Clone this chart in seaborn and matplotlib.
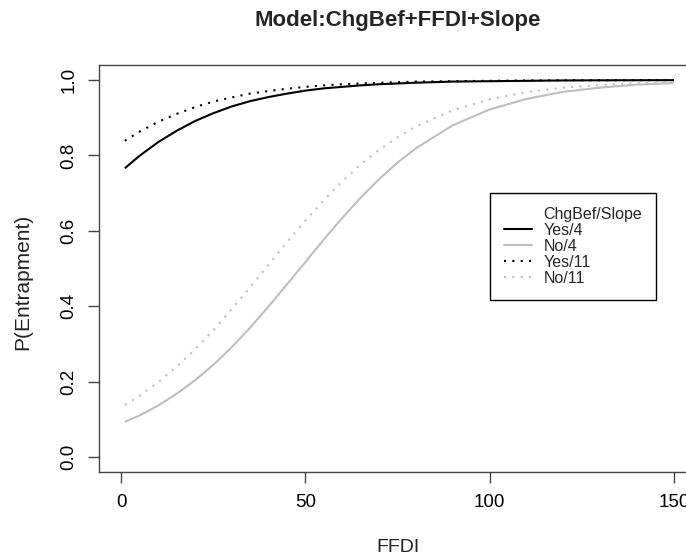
import matplotlib
matplotlib.use('Agg')
import matplotlib.pyplot as plt
from matplotlib.lines import Line2D
import seaborn as sns
import pandas as pd

# ── Data ─────────────────────────────────────────────────────────────────────
ffdi = [1, 5, 10, 15, 20, 25, 30, 35, 40, 45, 50, 55, 60, 65, 70, 75, 80, 90,
        100, 110, 120, 130, 140, 150]
yes_4 = [0.766, 0.799, 0.835, 0.865, 0.891, 0.912, 0.930, 0.944, 0.955, 0.964,
         0.972, 0.978, 0.982, 0.986, 0.989, 0.991, 0.993, 0.996, 0.997, 0.998,
         0.999, 0.9994, 0.9996, 0.9998]
no_4 = [0.093, 0.110, 0.136, 0.167, 0.203, 0.244, 0.291, 0.343, 0.399, 0.458,
        0.517, 0.577, 0.634, 0.688, 0.737, 0.781, 0.819, 0.880, 0.922, 0.950,
        0.969, 0.980, 0.988, 0.992]
yes_11 = [0.839, 0.863, 0.889, 0.910, 0.928, 0.943, 0.954, 0.964, 0.971, 0.977,
          0.982, 0.986, 0.989, 0.991, 0.993, 0.9945, 0.996, 0.997, 0.998, 0.999,
          0.9994, 0.9996, 0.9998, 0.9999]
no_11 = [0.138, 0.162, 0.198, 0.239, 0.285, 0.336, 0.392, 0.450, 0.510, 0.570,
         0.627, 0.681, 0.731, 0.776, 0.815, 0.848, 0.877, 0.920, 0.949, 0.968,
         0.980, 0.987, 0.992, 0.995]

series_names = ['Yes/4', 'No/4', 'Yes/11', 'No/11']
series_values = [yes_4, no_4, yes_11, no_11]
x_ticks = [0, 50, 100, 150]
y_ticks = [0.0, 0.2, 0.4, 0.6, 0.8, 1.0]

# ── Style ────────────────────────────────────────────────────────────────────
sns.set_theme(style='ticks')
plt.rcParams['font.family'] = ['Liberation Sans', 'DejaVu Sans']

BLACK = '#000000'
GREY = '#bebebe'
styles = {
    'Yes/4': dict(color=BLACK, linestyle='-'),
    'No/4': dict(color=GREY, linestyle='-'),
    'Yes/11': dict(color=BLACK, linestyle=(0, (1, 3))),
    'No/11': dict(color=GREY, linestyle=(0, (1, 3))),
}

df = pd.DataFrame({
    'FFDI': ffdi * len(series_names),
    'P': [v for vals in series_values for v in vals],
    'group': [name for name in series_names for _ in ffdi],
})

fig = plt.figure(figsize=(6.86, 5.58), dpi=100)
ax = fig.add_axes([99 / 686, 1 - 472 / 558, 597 / 686, 407 / 558])

for name in series_names:
    sub = df[df['group'] == name]
    sns.lineplot(x='FFDI', y='P', data=sub, ax=ax, lw=1.5,
                 solid_capstyle='butt', **styles[name])

ax.set_xlim(-6, 156)
ax.set_ylim(-0.04, 1.04)
ax.set_xticks(x_ticks)
ax.set_xticklabels([str(t) for t in x_ticks], fontsize=13.5)
ax.set_yticks(y_ticks)
ax.set_yticklabels([f'{t:.1f}' for t in y_ticks], fontsize=13.5,
                   rotation=90, va='center')
ax.tick_params(axis='both', length=7.7, width=1, color='#444444',
               labelcolor='black', pad=8)
for sp in ax.spines.values():
    sp.set_visible(True)
    sp.set_color('#444444')
    sp.set_linewidth(1)

ax.set_xlabel('FFDI', fontsize=14, color='#222222')
ax.xaxis.set_label_coords(0.5, (472 - 548) / 407)
ax.xaxis.label.set_va('center')
ax.set_ylabel('P(Entrapment)', fontsize=15, color='#222222')
ax.yaxis.set_label_coords((23 - 99) / 597, (472 - 282) / 407)
ax.yaxis.label.set_va('center')

ax.set_title('Model:ChgBef+FFDI+Slope', fontsize=16, fontweight='bold',
             y=(472 - 20.5) / 407, va='center', pad=0)

# ── Legend (first row is a header without a line) ────────────────────────────
handles = [Line2D([], [], linestyle='none')]
handles += [Line2D([], [], lw=1.5, **styles[n]) for n in series_names]
labels = ['ChgBef/Slope'] + series_names
leg = ax.legend(handles, labels, loc='upper left',
                bbox_to_anchor=((490 - 99) / 597, (472 - 193) / 407),
                borderaxespad=0, fontsize=11.5, handlelength=1.75,
                handletextpad=0.75, labelspacing=0.07, borderpad=0.85,
                fancybox=False, framealpha=1, edgecolor='black')
leg.get_frame().set_linewidth(1)

fig.savefig('out.png', dpi=100)
